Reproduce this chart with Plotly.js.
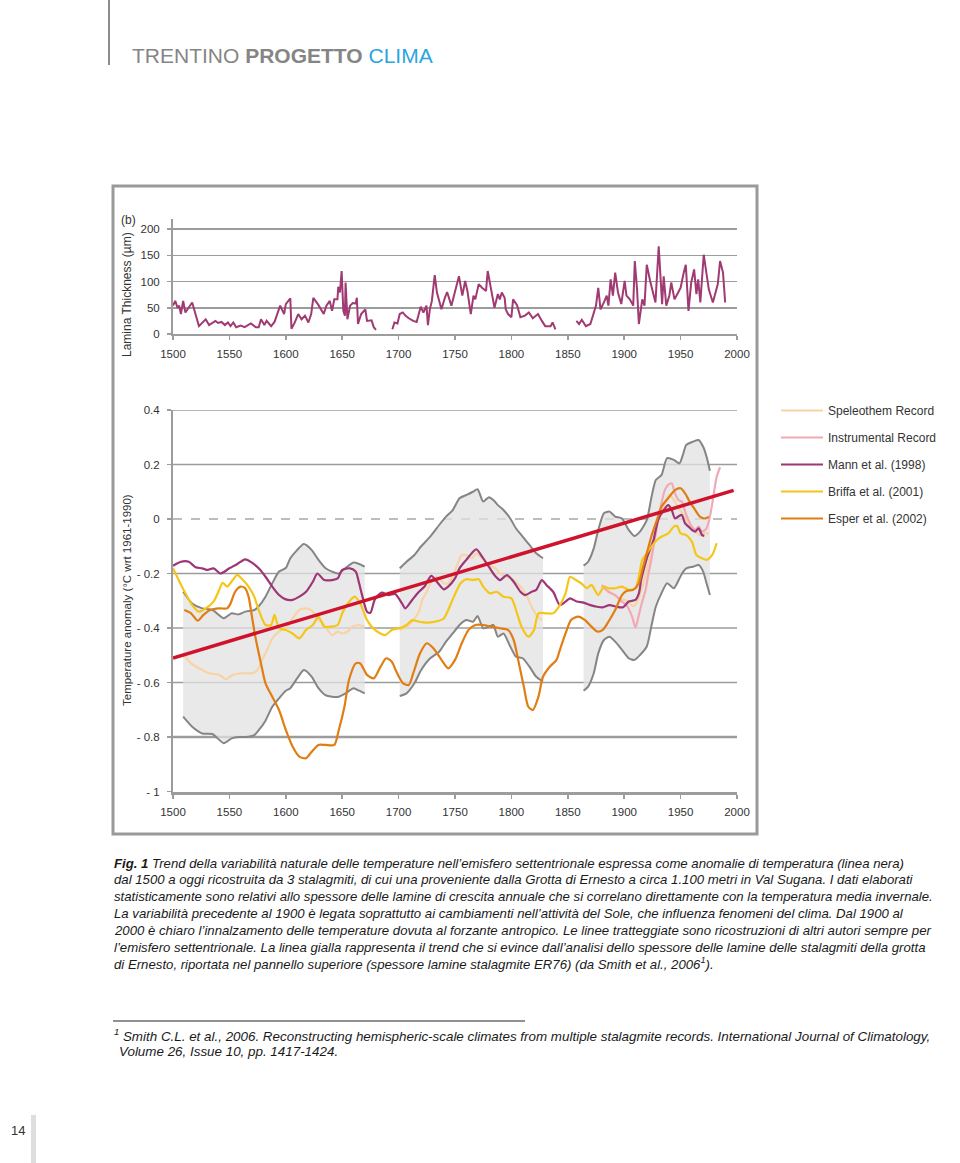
<!DOCTYPE html>
<html><head><meta charset="utf-8">
<script src="https://cdn.plot.ly/plotly-3.0.1.min.js"></script>
<style>html,body{margin:0;padding:0;background:#fff;}#chart{width:960px;height:1163px;}</style>
</head><body><div id="chart"></div>
<script>
// ---------- DATA ----------
// Top panel: lamina thickness (µm), stalagmite ER76 (null = gap)
var laminaYears = [1500,1502,1504,1505.5,1507,1509,1511,1515.5,1517,1523,1526.5,1529,1532,1537.6,1540,1543,1546,1548.7,1551,1553.5,1556,1560,1563.5,1569,1573.4,1576,1578,1581,1583,1587,1590,1595,1598.5,1600,1604,1605,1608,1611,1614,1617,1620,1622.5,1624.4,1629,1633.6,1636,1639,1641,1643,1645.8,1646.5,1648,1649.5,1651,1652.4,1653,1654.6,1657,1659.4,1662,1663,1664,1666.8,1670.5,1672,1676,1678,1680,
  1687,
  1694.5,1696.3,1699,1701,1703.7,1706,1709,1713,1716,1719.6,1722,1724.7,1726,1727.7,1729.5,1732,1734,1738,1741,1743,1746.8,1749.8,1753.5,1756.5,1759,1761,1764,1766.4,1768,1771,1774,1777.5,1779,1782,1785,1788,1789.7,1791.5,1794,1795,1797,1800,1801.5,1805,1808,1812,1815.5,1819,1823.6,1827,1830,1834.7,1836.5,1839,
  1848,
  1857.6,1860,1862.4,1866,1870,1872,1875,1877,1879,1882.6,1884.5,1886,1888,1890,1892,1894.5,1897.4,1900.4,1902,1905,1908,1909.4,1911.4,1913,1916,1918,1920,1923,1926,1927.7,1930.6,1933.6,1935,1937.3,1940,1941.7,1944.6,1947,1950,1952.8,1954.6,1957,1959.4,1962,1964,1965.6,1967.5,1970.5,1973,1975,1978.6,1980.4,1983,1985,1987.6,1989.5];
var laminaValues = [54,63,50,54,38,63,41,54,60,15,22,28,17,25,21,23,17,22,15,22,13,16,13,20,13,13,28,17,25,15,23,54,38,57,68,10,22,38,28,35,22,38,69,55,38,54,63,44,66,66,90,79,120,44,35,98,28,54,59,58,69,19,38,47,25,26,13,8,
  null,
  9,22,20,38,41,35,30,25,23,52,41,54,17,47,63,112,79,47,69,80,54,79,110,73,101,82,38,73,66,95,88,82,120,85,50,76,66,79,69,47,38,32,66,55,32,35,41,30,38,25,15,15,22,9,
  null,
  25,19,27,15,19,32,54,88,47,63,73,54,104,73,117,79,57,101,73,66,54,139,85,19,66,54,132,101,76,60,167,57,110,54,73,98,66,76,88,117,132,44,98,123,76,104,60,151,114,85,60,73,95,139,117,60];

// Bottom panel: grey envelope of the speleothem reconstruction (three segments)
var band1Years = [1509,1517,1526,1535,1545,1552,1558,1564,1572,1576,1582,1588,1594,1600,1604,1610,1616,1623,1629,1635,1641,1647,1653,1660,1665,1670];
var band1Upper = [-0.267,-0.31,-0.328,-0.334,-0.364,-0.346,-0.35,-0.34,-0.334,-0.32,-0.285,-0.236,-0.193,-0.18,-0.144,-0.114,-0.092,-0.114,-0.15,-0.18,-0.193,-0.2,-0.18,-0.16,-0.165,-0.175];
var band1Lower = [-0.725,-0.762,-0.787,-0.789,-0.823,-0.805,-0.8,-0.8,-0.793,-0.775,-0.74,-0.689,-0.658,-0.63,-0.621,-0.585,-0.554,-0.579,-0.621,-0.646,-0.652,-0.652,-0.64,-0.621,-0.63,-0.64];
var band2Years = [1701,1707,1714,1720,1728,1736,1742,1748,1754,1760,1766,1770,1775,1780,1784,1788,1793,1799,1804,1810,1816,1822,1828];
var band2Upper = [-0.181,-0.157,-0.132,-0.1,-0.065,-0.022,0.009,0.033,0.076,0.088,0.1,0.109,0.064,0.08,0.07,0.051,0.033,0.002,-0.034,-0.065,-0.095,-0.126,-0.144];
var band2Lower = [-0.65,-0.64,-0.603,-0.554,-0.511,-0.487,-0.45,-0.42,-0.389,-0.371,-0.377,-0.356,-0.401,-0.395,-0.389,-0.432,-0.42,-0.468,-0.505,-0.511,-0.542,-0.579,-0.597];
var band3Years = [1864,1868,1873,1877,1882,1887,1892,1898,1904,1909,1914,1920,1924,1928,1933,1938,1944,1949,1952,1955,1961,1966,1970,1973,1976];
var band3Upper = [-0.171,-0.157,-0.108,-0.04,0.021,0.027,0.009,0.002,-0.04,-0.062,-0.046,-0.004,0.076,0.143,0.161,0.223,0.217,0.204,0.235,0.272,0.284,0.29,0.265,0.229,0.177];
var band3Lower = [-0.63,-0.615,-0.566,-0.493,-0.444,-0.432,-0.45,-0.48,-0.511,-0.517,-0.499,-0.468,-0.395,-0.322,-0.273,-0.236,-0.254,-0.218,-0.195,-0.181,-0.175,-0.169,-0.193,-0.236,-0.279];

// Speleothem record (null = gap)
var speleoYears = [1510,1516,1523,1532,1541,1547,1553,1562,1570,1575,1579,1584,1588,1594,1600,1606,1612,1618,1624,1628,1632,1637,1641,1646,1650,1655,1659,1665,1670,
  1685,
  1701,1707,1713,1718,1721,1725,1729,1734,1740,1744,1749,1753,1756,1760,1765,1769,1774,1780,1786,1790,1796,1802,1808,1814,1818,1822,1827,
  1850,
  1880,1888,1895,1902,1908,1912,1916,1920,1924,1928,1932,1936,1940,1944,1948,1952,1956,1960,1964,1968,1972,1975];
var speleoValues = [-0.5,-0.53,-0.548,-0.566,-0.572,-0.588,-0.572,-0.566,-0.566,-0.554,-0.517,-0.475,-0.438,-0.413,-0.401,-0.365,-0.334,-0.328,-0.34,-0.365,-0.377,-0.407,-0.426,-0.413,-0.42,-0.413,-0.395,-0.389,-0.395,
  null,
  -0.407,-0.395,-0.371,-0.34,-0.297,-0.267,-0.23,-0.212,-0.236,-0.236,-0.2,-0.157,-0.132,-0.132,-0.144,-0.126,-0.144,-0.169,-0.181,-0.2,-0.212,-0.224,-0.248,-0.285,-0.322,-0.352,-0.371,
  null,
  -0.25,-0.27,-0.29,-0.3,-0.32,-0.3,-0.25,-0.19,-0.12,-0.05,0.02,0.06,0.09,0.07,0.04,0.02,-0.01,-0.03,-0.05,-0.06,-0.05,-0.055];

// Instrumental record
var instrYears = [1880,1886,1892,1898,1902,1907,1910,1913,1916,1919,1921,1924,1927,1930,1933,1936,1939,1942,1945,1948,1951,1954,1957,1960,1963,1966,1969,1973,1976,1979,1982,1985];
var instrValues = [-0.242,-0.267,-0.279,-0.303,-0.316,-0.358,-0.398,-0.352,-0.303,-0.26,-0.212,-0.15,-0.077,-0.004,0.057,0.106,0.125,0.131,0.094,0.07,0.064,0.027,-0.004,-0.028,-0.04,-0.028,-0.046,-0.034,0.009,0.082,0.155,0.19];

// Mann et al. (1998)
var mannYears = [1500,1507,1514,1520,1526,1530,1536,1542,1550,1557,1564,1570,1576,1582,1588,1594,1600,1606,1612,1618,1624,1628,1634,1641,1646,1650,1657,1662,1665,1668,1672,1675,1679,1685,1691,1697,1703,1706,1712,1718,1723,1729,1735,1740,1744,1750,1754,1760,1766,1769,1774,1780,1785,1790,1796,1802,1808,1812,1818,1822,1827,1831,1837,1843,1848,1852,1858,1864,1870,1876,1881,1887,1893,1899,1904,1910,1913,1915,1918,1921,1926,1930,1935,1939,1942,1945,1948,1951,1954,1957,1960,1963,1966,1969,1971];
var mannValues = [-0.172,-0.157,-0.157,-0.177,-0.181,-0.187,-0.181,-0.2,-0.181,-0.165,-0.148,-0.16,-0.181,-0.212,-0.248,-0.279,-0.295,-0.297,-0.285,-0.267,-0.23,-0.2,-0.224,-0.224,-0.218,-0.187,-0.181,-0.193,-0.236,-0.285,-0.34,-0.344,-0.295,-0.27,-0.279,-0.275,-0.31,-0.328,-0.297,-0.267,-0.248,-0.209,-0.236,-0.258,-0.248,-0.218,-0.181,-0.15,-0.12,-0.111,-0.138,-0.175,-0.206,-0.224,-0.206,-0.23,-0.267,-0.279,-0.267,-0.26,-0.224,-0.242,-0.267,-0.316,-0.303,-0.291,-0.303,-0.307,-0.316,-0.322,-0.324,-0.316,-0.322,-0.324,-0.303,-0.297,-0.273,-0.224,-0.175,-0.132,-0.077,-0.004,0.033,0.051,0.035,0.002,0.009,0.015,-0.016,-0.028,-0.04,-0.046,-0.034,-0.059,-0.062];

// Briffa et al. (2001)
var briffaYears = [1500,1505,1511,1517,1523,1529,1536,1541,1544,1548,1553,1557,1562,1567,1572,1576,1582,1587,1590,1594,1600,1606,1612,1618,1624,1629,1634,1640,1646,1650,1655,1661,1666,1672,1679,1688,1694,1701,1707,1712,1718,1725,1732,1740,1744,1749,1755,1760,1766,1771,1775,1781,1787,1793,1800,1805,1809,1815,1820,1824,1831,1837,1843,1848,1852,1856,1862,1867,1871,1877,1882,1886,1892,1898,1904,1910,1913,1916,1920,1924,1929,1933,1939,1944,1947,1950,1955,1960,1964,1969,1973,1978,1982];
var briffaValues = [-0.181,-0.224,-0.273,-0.316,-0.34,-0.328,-0.303,-0.26,-0.234,-0.248,-0.224,-0.205,-0.224,-0.248,-0.285,-0.334,-0.389,-0.389,-0.352,-0.401,-0.407,-0.42,-0.438,-0.407,-0.389,-0.358,-0.395,-0.395,-0.389,-0.346,-0.31,-0.285,-0.31,-0.371,-0.407,-0.426,-0.407,-0.401,-0.389,-0.371,-0.377,-0.38,-0.377,-0.365,-0.334,-0.285,-0.236,-0.221,-0.224,-0.221,-0.248,-0.273,-0.267,-0.285,-0.291,-0.346,-0.395,-0.432,-0.407,-0.346,-0.346,-0.346,-0.316,-0.273,-0.212,-0.221,-0.236,-0.254,-0.242,-0.279,-0.248,-0.254,-0.254,-0.248,-0.26,-0.254,-0.212,-0.15,-0.126,-0.102,-0.077,-0.065,-0.053,-0.028,-0.026,-0.053,-0.059,-0.083,-0.132,-0.144,-0.15,-0.132,-0.089];

// Esper et al. (2002)
var esperYears = [1510,1516,1522,1527,1533,1541,1548,1551,1555,1560,1564,1567,1570,1573,1578,1582,1588,1594,1600,1606,1612,1618,1623,1629,1635,1643,1647,1652,1656,1662,1666,1672,1678,1684,1689,1694,1698,1704,1709,1713,1719,1725,1731,1738,1744,1750,1756,1762,1768,1775,1782,1790,1797,1802,1806,1811,1815,1819,1824,1828,1834,1840,1843,1848,1853,1859,1865,1871,1876,1881,1886,1892,1898,1902,1908,1913,1916,1920,1924,1929,1933,1939,1945,1950,1954,1958,1963,1967,1972,1975];
var esperValues = [-0.334,-0.346,-0.373,-0.352,-0.334,-0.328,-0.328,-0.31,-0.267,-0.248,-0.254,-0.285,-0.358,-0.432,-0.53,-0.603,-0.652,-0.701,-0.774,-0.835,-0.872,-0.878,-0.854,-0.829,-0.829,-0.829,-0.774,-0.689,-0.591,-0.53,-0.53,-0.572,-0.585,-0.542,-0.511,-0.524,-0.56,-0.603,-0.609,-0.566,-0.493,-0.456,-0.475,-0.517,-0.548,-0.517,-0.456,-0.407,-0.389,-0.389,-0.395,-0.401,-0.407,-0.444,-0.517,-0.615,-0.689,-0.701,-0.652,-0.579,-0.542,-0.517,-0.48,-0.42,-0.37,-0.358,-0.37,-0.395,-0.413,-0.407,-0.377,-0.334,-0.279,-0.264,-0.26,-0.236,-0.187,-0.126,-0.065,-0.004,0.045,0.076,0.106,0.113,0.094,0.064,0.033,0.009,0.002,0.009];

// Linear trend (red)
var trendYears = [1500, 1997];
var trendValues = [-0.51, 0.105];

var axisYears = [1500,1550,1600,1650,1700,1750,1800,1850,1900,1950,2000];
var laminaTicks = [0,50,100,150,200];
var tempTicks = [-1,-0.8,-0.6,-0.4,-0.2,0,0.2,0.4];
var tempTickText = ['- 1','- 0.8','- 0.6','- 0.4','- 0.2','0','0.2','0.4'];
var tempGrid = [0.4,0.2,-0.2,-0.4,-0.6,-0.8];

var seriesNames = ['Speleothem Record','Instrumental Record','Mann et al. (1998)','Briffa et al. (2001)','Esper et al. (2002)'];

var captionLines = [
 '<b>Fig. 1</b> Trend della variabilità naturale delle temperature nell’emisfero settentrionale espressa come anomalie di temperatura (linea nera)',
 'dal 1500 a oggi ricostruita da 3 stalagmiti, di cui una proveniente dalla Grotta di Ernesto a circa 1.100 metri in Val Sugana. I dati elaborati',
 'statisticamente sono relativi allo spessore delle lamine di crescita annuale che si correlano direttamente con la temperatura media invernale.',
 'La variabilità precedente al 1900 è legata soprattutto ai cambiamenti nell’attività del Sole, che influenza fenomeni del clima. Dal 1900 al',
 '2000 è chiaro l’innalzamento delle temperature dovuta al forzante antropico. Le linee tratteggiate sono ricostruzioni di altri autori sempre per',
 'l’emisfero settentrionale. La linea gialla rappresenta il trend che si evince dall’analisi dello spessore delle lamine delle stalagmiti della grotta',
 'di Ernesto, riportata nel pannello superiore (spessore lamine stalagmite ER76) (da Smith et al., 2006<sup>1</sup>).'
];
var footLines = [
 '<sup>1</sup> Smith C.L. et al., 2006. Reconstructing hemispheric-scale climates from multiple stalagmite records. International Journal of Climatology,',
 'Volume 26, Issue 10, pp. 1417-1424.'
];

// ---------- LAYOUT HELPERS ----------
var W = 960, H = 1163;
function px(x){ return x / W; }
function py(y){ return 1 - y / H; }
var FONT = 'Liberation Sans, Arial, Helvetica, sans-serif';
var GRID = '#9c9c9c';

var traces = [];
function band(years, lower, upper){
  traces.push({x: years, y: lower, xaxis:'x2', yaxis:'y2', type:'scatter', mode:'lines',
    line:{color:'#858585', width:2, shape:'spline', smoothing:0.6}, showlegend:false, hoverinfo:'skip'});
  traces.push({x: years, y: upper, xaxis:'x2', yaxis:'y2', type:'scatter', mode:'lines', fill:'tonexty',
    fillcolor:'rgba(225,225,225,0.75)',
    line:{color:'#858585', width:2, shape:'spline', smoothing:0.6}, showlegend:false, hoverinfo:'skip'});
}
band(band1Years, band1Lower, band1Upper);
band(band2Years, band2Lower, band2Upper);
band(band3Years, band3Lower, band3Upper);

var colors = ['#f8d3a6','#f1a9b5','#9d3577','#f4c61a','#e07d13'];
var xs = [speleoYears, instrYears, mannYears, briffaYears, esperYears];
var ys = [speleoValues, instrValues, mannValues, briffaValues, esperValues];
for (var i = 0; i < 5; i++) {
  traces.push({x: xs[i], y: ys[i], xaxis:'x2', yaxis:'y2', type:'scatter', mode:'lines',
    name: seriesNames[i], legendgroup:'g'+i,
    line:{color:colors[i], width:2.2, shape:'spline', smoothing:0.7}});
}
traces.push({x: trendYears, y: trendValues, xaxis:'x2', yaxis:'y2', type:'scatter', mode:'lines',
  line:{color:'#d0132d', width:3.5}, showlegend:false});
traces.push({x: laminaYears, y: laminaValues, xaxis:'x', yaxis:'y', type:'scatter', mode:'lines',
  line:{color:'#a03a72', width:2}, showlegend:false, connectgaps:false});

var tickFont = {family: FONT, size: 11.5, color: '#333'};
function xAxis(anchor, lw){
  return {domain:[px(173), px(737)], range:[1500,2000], anchor:anchor,
    tickmode:'array', tickvals: axisYears, ticks:'outside', ticklen:4, tickwidth:1.5, tickcolor:GRID,
    showline:true, linecolor:GRID, linewidth:lw, showgrid:false, zeroline:false,
    tickfont: tickFont, ticklabelstandoff:4, fixedrange:true};
}

var shapes = [
  {type:'line', xref:'paper', yref:'paper', x0:px(109), x1:px(109), y0:py(0), y1:py(65), line:{color:'#8c8c8c', width:2}},
  {type:'rect', xref:'paper', yref:'paper', x0:px(113), x1:px(757), y0:py(186), y1:py(834), line:{color:'#9a9a9a', width:3}},
  {type:'line', xref:'paper', yref:'paper', x0:px(113), x1:px(525), y0:py(1021), y1:py(1021), line:{color:'#222', width:1}},
  {type:'rect', xref:'paper', yref:'paper', x0:px(31), x1:px(36), y0:py(1115), y1:py(1163), fillcolor:'#dedede', line:{width:0}}
];
tempGrid.forEach(function(v){
  shapes.push({type:'line', xref:'x2', yref:'y2', x0:1500, x1:2000, y0:v, y1:v, layer:'below',
    line:{color:GRID, width:(v === -0.8 ? 2.5 : 1.5)}});
});
shapes.push({type:'line', xref:'x2', yref:'y2', x0:1500, x1:2000, y0:0, y1:0, layer:'below',
  line:{color:'#a8a8a8', width:1.5, dash:'dash'}});

var annotations = [
  {xref:'paper', yref:'paper', x:px(130), y:py(55), xanchor:'left', yanchor:'middle', showarrow:false,
   text:'TRENTINO <b>PROGETTO</b> <span style="color:#2aa6df">CLIMA</span>', font:{family:FONT, size:21, color:'#858585'}},
  {xref:'paper', yref:'paper', x:px(128), y:py(220), xanchor:'center', yanchor:'middle', showarrow:false,
   text:'(b)', font:{family:FONT, size:12, color:'#333'}},
  {xref:'paper', yref:'paper', x:px(127), y:py(295), xanchor:'center', yanchor:'middle', showarrow:false, textangle:-90,
   text:'Lamina Thickness (µm)', font:{family:FONT, size:12, color:'#333'}},
  {xref:'paper', yref:'paper', x:px(127), y:py(600), xanchor:'center', yanchor:'middle', showarrow:false, textangle:-90,
   text:'Temperature anomaly (°C wrt 1961-1990)', font:{family:FONT, size:11.5, color:'#333'}},
  {xref:'paper', yref:'paper', x:px(9), y:py(1130), xanchor:'left', yanchor:'middle', showarrow:false,
   text:'14', font:{family:FONT, size:13, color:'#333'}}
];
captionLines.forEach(function(t, k){
  annotations.push({xref:'paper', yref:'paper', x:px(112), y:py(863 + k*16.8), xanchor:'left', yanchor:'middle', showarrow:false,
    text:t, font:{family:FONT, size:13.2, color:'#1a1a1a', style:'italic'}});
});
footLines.forEach(function(t, k){
  annotations.push({xref:'paper', yref:'paper', x:px(k === 0 ? 112 : 117), y:py(1035 + k*16.5), xanchor:'left', yanchor:'middle', showarrow:false,
    text:t, font:{family:FONT, size:13.4, color:'#1a1a1a', style:'italic'}});
});

var layout = {
  width: W, height: H, margin:{l:0, r:0, t:0, b:0},
  paper_bgcolor:'#ffffff', plot_bgcolor:'rgba(0,0,0,0)',
  font:{family:FONT, color:'#333'},
  xaxis: xAxis('y', 2),
  yaxis: {domain:[py(334), py(218.5)], range:[0,220], anchor:'x', tickmode:'array', tickvals: laminaTicks,
    ticks:'outside', ticklen:4, tickwidth:1.5, tickcolor:GRID, showline:true, linecolor:GRID, linewidth:2,
    showgrid:true, gridcolor:GRID, gridwidth:1.5, zeroline:false, tickfont:tickFont, ticklabelstandoff:5, fixedrange:true},
  xaxis2: xAxis('y2', 3),
  yaxis2: {domain:[py(791.5), py(410)], range:[-1,0.4], anchor:'x2', tickmode:'array', tickvals: tempTicks, ticktext: tempTickText,
    ticks:'outside', ticklen:4, tickwidth:1.5, tickcolor:GRID, showline:true, linecolor:GRID, linewidth:2,
    showgrid:false, zeroline:false, tickfont:tickFont, ticklabelstandoff:5, fixedrange:true},
  showlegend:true,
  legend:{x:px(776), y:py(396), xanchor:'left', yanchor:'top', bgcolor:'rgba(0,0,0,0)', borderwidth:0,
    font:{family:FONT, size:12, color:'#333'}, tracegroupgap:8, traceorder:'grouped', itemwidth:42},
  shapes: shapes,
  annotations: annotations
};

Plotly.newPlot('chart', traces, layout, {staticPlot:true, displayModeBar:false});
</script></body></html>
